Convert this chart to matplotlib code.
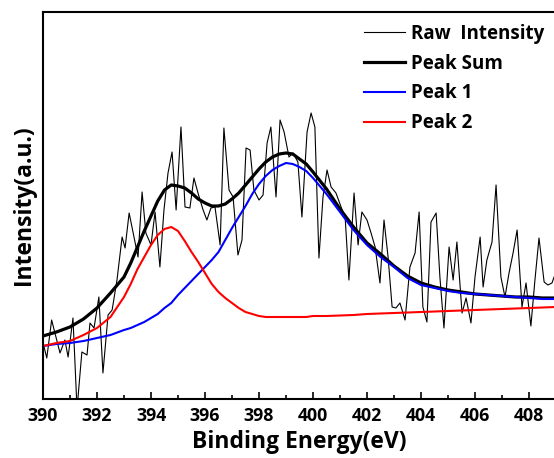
import matplotlib.pyplot as plt
from matplotlib.ticker import MultipleLocator

plt.rcParams['font.family'] = ['Open Sans', 'DejaVu Sans']
plt.rcParams['font.weight'] = 'bold'

# raw spectrum (binding energy in eV, intensity in a.u.)
raw_x = [390.04, 390.14, 390.32, 390.63, 390.81, 390.93, 391.11, 391.26, 391.44, 391.63,
         391.74, 391.89, 392.07, 392.22, 392.41, 392.56, 392.74, 392.93, 393.04, 393.19,
         393.52, 393.67, 393.81, 394.00, 394.15, 394.33, 394.48, 394.63, 394.78, 394.93,
         395.11, 395.26, 395.44, 395.59, 395.74, 395.93, 396.07, 396.22, 396.37, 396.56,
         396.70, 396.89, 397.04, 397.22, 397.37, 397.52, 397.67, 397.81, 398.00, 398.15,
         398.30, 398.44, 398.63, 398.78, 398.93, 399.11, 399.26, 399.44, 399.59, 399.78,
         399.93, 400.07, 400.22, 400.37, 400.52, 400.67, 400.85, 401.04, 401.19, 401.33,
         401.52, 401.67, 401.81, 402.00, 402.15, 402.30, 402.48, 402.63, 402.78, 402.93,
         403.07, 403.22, 403.41, 403.59, 403.78, 403.93, 404.07, 404.22, 404.37, 404.56,
         404.70, 404.85, 405.04, 405.19, 405.33, 405.52, 405.67, 405.85, 406.00, 406.19,
         406.30, 406.44, 406.63, 406.78, 406.96, 407.11, 407.26, 407.41, 407.56, 407.74,
         407.89, 408.07, 408.22, 408.37, 408.56, 408.70, 408.85, 408.93]
raw_y = [52, 41, 79, 46, 59, 42, 81, -10, 47, 44,
         76, 71, 102, 26, 84, 89, 119, 162, 151, 186,
         142, 207, 166, 154, 187, 132, 189, 226, 247, 189,
         272, 192, 191, 221, 206, 189, 179, 191, 192, 154,
         271, 209, 202, 144, 159, 251, 249, 209, 199, 204,
         256, 272, 202, 279, 267, 242, 246, 237, 182, 267,
         286, 272, 141, 202, 229, 212, 206, 192, 182, 119,
         206, 154, 187, 179, 166, 152, 116, 179, 142, 92,
         91, 96, 79, 132, 146, 187, 92, 77, 177, 186,
         122, 71, 152, 119, 157, 86, 101, 76, 122, 162,
         112, 139, 157, 214, 122, 102, 126, 146, 169, 92,
         116, 73, 119, 161, 117, 114, 116, 122]

# fitted curves
fit_x = [390, 390.5, 391, 391.5, 392, 392.5, 393, 393.25, 393.5, 393.75,
         394, 394.25, 394.5, 394.75, 395, 395.25, 395.5, 395.75, 396, 396.25,
         396.5, 396.75, 397, 397.25, 397.5, 397.75, 398, 398.25, 398.5, 398.75,
         399, 399.25, 399.5, 399.75, 400, 400.5, 401, 401.5, 402, 402.5,
         403, 403.5, 404, 404.5, 405, 405.5, 406, 406.5, 407, 407.5,
         408, 408.5, 409]
peak_sum = [63, 67, 72, 80, 91, 106, 122, 136, 152, 168,
            183, 198, 209, 214, 213, 211, 206, 200, 196, 193,
            193, 195, 200, 206, 214, 222, 230, 237, 242, 245,
            246, 245, 240, 235, 227, 210, 190, 172, 156, 145,
            133, 123, 116, 112, 109, 107, 105, 104, 103, 102,
            102, 101, 101]
peak1 = [53, 55, 56, 58, 61, 64, 69, 71, 74, 77,
         81, 85, 91, 96, 104, 111, 118, 125, 132, 139,
         147, 159, 171, 182, 193, 205, 215, 223, 229, 233,
         236, 235, 232, 228, 221, 205, 187, 169, 154, 142,
         132, 121, 114, 111, 108, 106, 105, 104, 103, 102,
         101, 100, 100]
peak2 = [53, 56, 58, 64, 71, 82, 102, 115, 130, 142,
         154, 164, 170, 172, 168, 158, 147, 137, 126, 115,
         107, 101, 96, 91, 87, 85, 83, 82, 82, 82,
         82, 82, 82, 82, 83, 83, 83.5, 84, 85, 85.5,
         86, 86.5, 87, 87.5, 88, 88.5, 89, 89.5, 90, 90.5,
         91, 91.5, 92]

fig = plt.figure(figsize=(5.54, 4.58), dpi=100)
ax = fig.add_axes([43 / 554, 59 / 458, 513 / 554, 387.5 / 458])

ax.plot(raw_x, raw_y, color='black', lw=0.8, label='Raw  Intensity')
ax.plot(fit_x, peak_sum, color='black', lw=2.3, label='Peak Sum')
ax.plot(fit_x, peak1, color='blue', lw=1.5, label='Peak 1')
ax.plot(fit_x, peak2, color='red', lw=1.5, label='Peak 2')

ax.set_xlim(390, 409)
ax.set_ylim(0, 387.5)
ax.xaxis.set_major_locator(MultipleLocator(2))
ax.xaxis.set_minor_locator(MultipleLocator(1))
ax.tick_params(axis='x', which='major', direction='in', length=5, width=1.2,
               labelsize=12.8, pad=6)
ax.tick_params(axis='x', which='minor', direction='in', length=3, width=1.2)
ax.set_yticks([])
for s in ax.spines.values():
    s.set_linewidth(1.5)

ax.set_xlabel('Binding Energy(eV)', fontsize=16.5, fontweight='bold', labelpad=3)
ax.set_ylabel('Intensity(a.u.)', fontsize=16.5, fontweight='bold', labelpad=5)

ax.legend(loc='upper left', bbox_to_anchor=(364 / 554, 1 - 24 / 458),
          bbox_transform=fig.transFigure, frameon=False, fontsize=13.5,
          handlelength=2.2, handletextpad=0.3, labelspacing=0.52,
          borderpad=0, borderaxespad=0)

plt.savefig('out.png', dpi=100)
